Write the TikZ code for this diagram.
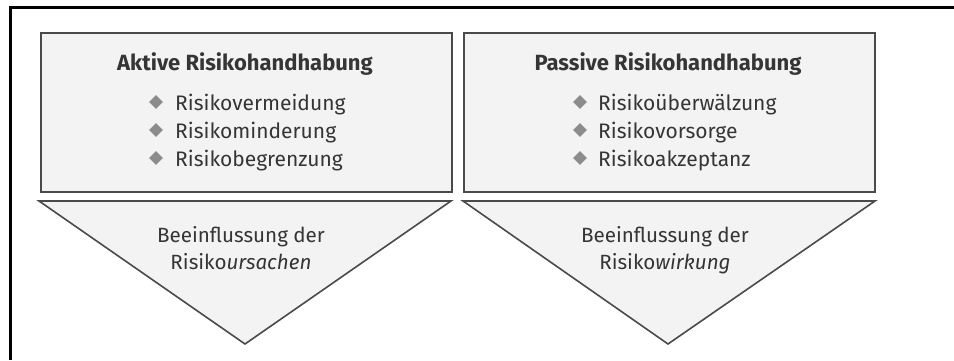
\documentclass[tikz,border=0pt]{standalone}
\usepackage{fontspec}
\setmainfont{Fira Sans}
\usetikzlibrary{shapes.geometric}
\definecolor{inkgray}{HTML}{353535}
\definecolor{edgegray}{HTML}{4A4A4A}
\definecolor{panelfill}{HTML}{F3F3F3}
\definecolor{bulletgray}{HTML}{8C8C8C}
\tikzset{
  panel/.style={draw=edgegray, line width=1.6pt, fill=panelfill},
  headline/.style={anchor=base, text=inkgray, font=\fontsize{22}{26}\selectfont\bfseries, inner sep=0pt},
  itemtext/.style={anchor=base west, text=inkgray, font=\fontsize{21}{25}\selectfont, inner sep=0pt},
  bulletmark/.style={diamond, fill=bulletgray, minimum size=14pt, inner sep=0pt},
  wedgetext/.style={anchor=base, text=inkgray, font=\fontsize{20.6}{25}\selectfont, inner sep=0pt},
}
\begin{document}
\begin{tikzpicture}[x=1pt,y=-1pt]
\useasboundingbox (0,0) rectangle (954,360);
% outer frame (top and left edges)
\draw[line width=2.2pt, black] (10.5,360) -- (10.5,7.5) -- (954,7.5);

% upper panels
\node[panel, anchor=north west, minimum width=411pt, minimum height=159pt] (aktivbox) at (40,32) {};
\node[panel, anchor=north west, minimum width=411pt, minimum height=159pt] (passivbox) at (463,32) {};

% downward wedges
\coordinate (wl1) at (39,201);
\coordinate (wl2) at (451,201);
\coordinate (wl3) at (245,344);
\coordinate (wr1) at (463,201);
\coordinate (wr2) at (875,201);
\coordinate (wr3) at (668,344);
\draw[panel, line join=miter] (wl1) -- (wl2) -- (wl3) -- cycle;
\draw[panel, line join=miter] (wr1) -- (wr2) -- (wr3) -- cycle;

% left panel text
\node[headline] (aktivtitle) at (245,70) {Aktive Risikohandhabung};
\node[bulletmark] (ab1) at (156,102) {};
\node[bulletmark] (ab2) at (156,130) {};
\node[bulletmark] (ab3) at (156,158) {};
\node[itemtext] (ai1) at (175,110) {Risikovermeidung};
\node[itemtext] (ai2) at (175,138) {Risikominderung};
\node[itemtext] (ai3) at (175,166) {Risikobegrenzung};

% right panel text
\node[headline] (passivtitle) at (668,70) {Passive Risikohandhabung};
\node[bulletmark] (pb1) at (580,102) {};
\node[bulletmark] (pb2) at (580,130) {};
\node[bulletmark] (pb3) at (580,158) {};
\node[itemtext] (pi1) at (598,110) {Risikoüberwälzung};
\node[itemtext] (pi2) at (598,138) {Risikovorsorge};
\node[itemtext] (pi3) at (598,166) {Risikoakzeptanz};

% wedge labels
\node[wedgetext] (wl) at (241,242) {Beeinflussung der};
\node[wedgetext] (wlb) at (241,269) {Risiko\textit{ursachen}};
\node[wedgetext] (wr) at (665,242) {Beeinflussung der};
\node[wedgetext] (wrb) at (665,269) {Risiko\textit{wirkung}};
\end{tikzpicture}
\end{document}
